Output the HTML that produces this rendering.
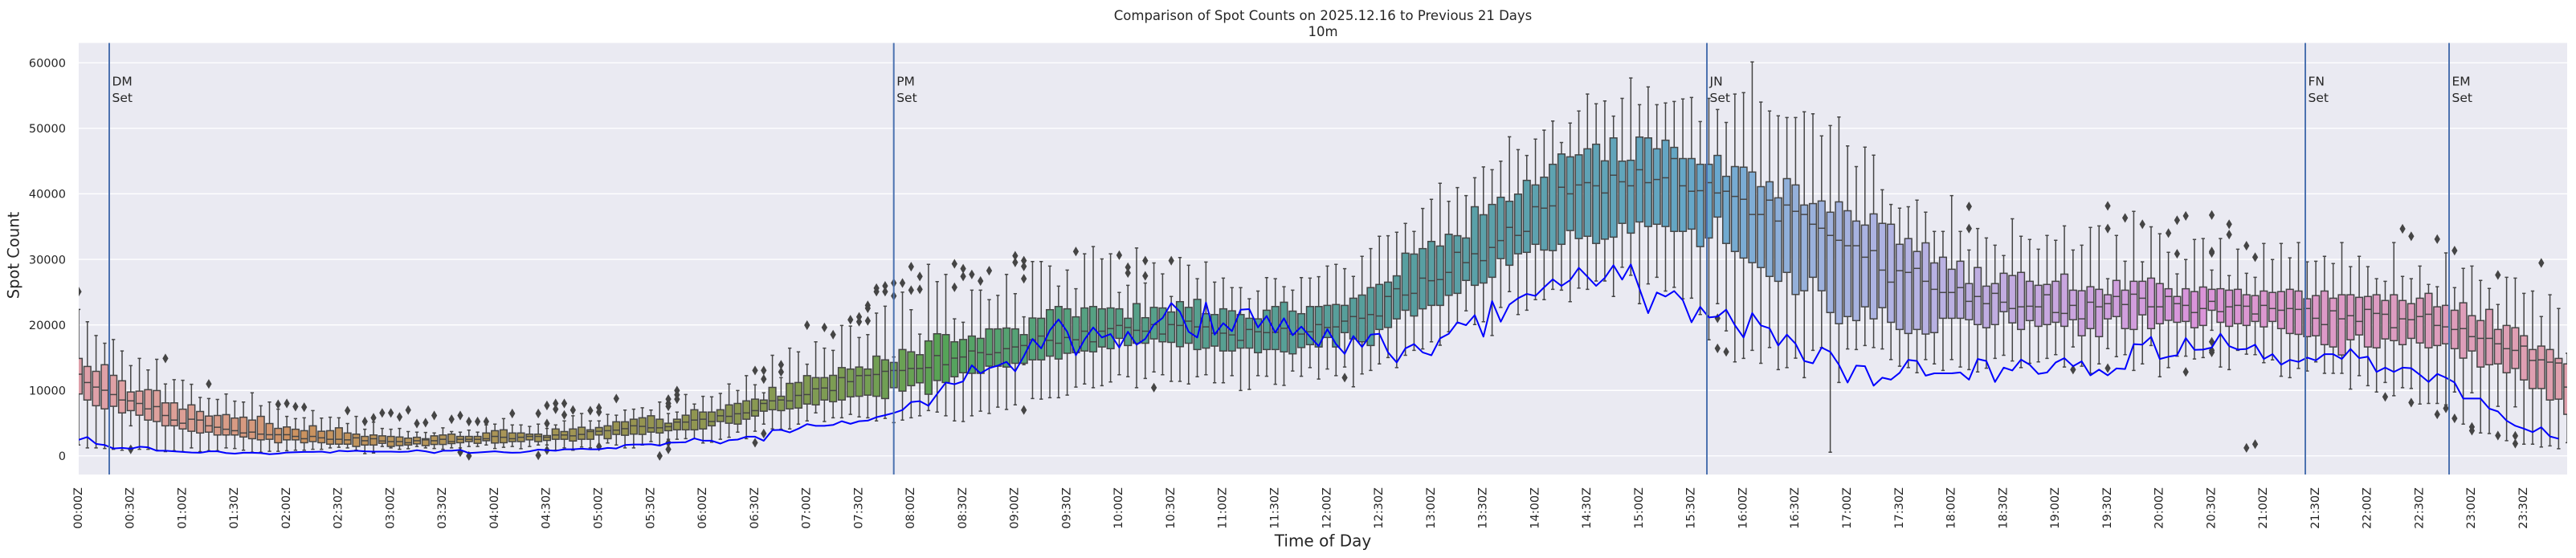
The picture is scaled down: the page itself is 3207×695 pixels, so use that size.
<!DOCTYPE html>
<html><head><meta charset="utf-8"><style>
html,body{margin:0;padding:0;background:#fff;}
svg{display:block;}
text{font-family:"DejaVu Sans","Liberation Sans",sans-serif;fill:#262626;}
</style></head><body>
<svg id="c" xmlns="http://www.w3.org/2000/svg" width="3207" height="695" viewBox="0 0 3207 695">
<defs><clipPath id="clip"><rect x="98" y="53.5" width="3098" height="537.5"/></clipPath></defs>
<rect width="3207" height="695" fill="#fff"/>
<rect x="98" y="53.5" width="3098" height="537.5" fill="#EAEAF2"/>
<g stroke="#fff" stroke-width="1.4">
<line x1="98" x2="3196" y1="567.86" y2="567.86"/>
<line x1="98" x2="3196" y1="486.25" y2="486.25"/>
<line x1="98" x2="3196" y1="404.65" y2="404.65"/>
<line x1="98" x2="3196" y1="323.04" y2="323.04"/>
<line x1="98" x2="3196" y1="241.43" y2="241.43"/>
<line x1="98" x2="3196" y1="159.82" y2="159.82"/>
<line x1="98" x2="3196" y1="78.22" y2="78.22"/>
</g>
<g id="boxes" clip-path="url(#clip)"></g>
<g id="over" clip-path="url(#clip)"></g>
<g stroke="#4C72B0" stroke-width="2">
<line x1="136" x2="136" y1="53.5" y2="591"/>
<line x1="1112.7" x2="1112.7" y1="53.5" y2="591"/>
<line x1="2125" x2="2125" y1="53.5" y2="591"/>
<line x1="2870" x2="2870" y1="53.5" y2="591"/>
<line x1="3049" x2="3049" y1="53.5" y2="591"/>
</g>
<g font-size="15.5">
<text x="139.5" y="106.5">DM</text><text x="139.5" y="127">Set</text>
<text x="1116.2" y="106.5">PM</text><text x="1116.2" y="127">Set</text>
<text x="2128.5" y="106.5">JN</text><text x="2128.5" y="127">Set</text>
<text x="2873.5" y="106.5">FN</text><text x="2873.5" y="127">Set</text>
<text x="3052.5" y="106.5">EM</text><text x="3052.5" y="127">Set</text>
</g>
<g font-size="14.5" text-anchor="end">
<text x="82" y="567.86" dy="0.36em">0</text>
<text x="82" y="486.25" dy="0.36em">10000</text>
<text x="82" y="404.65" dy="0.36em">20000</text>
<text x="82" y="323.04" dy="0.36em">30000</text>
<text x="82" y="241.43" dy="0.36em">40000</text>
<text x="82" y="159.82" dy="0.36em">50000</text>
<text x="82" y="78.22" dy="0.36em">60000</text>
</g>
<g font-size="14.5" text-anchor="end">
<text transform="translate(101.8,607) rotate(-90)">00:00Z</text>
<text transform="translate(166.57,607) rotate(-90)">00:30Z</text>
<text transform="translate(231.34,607) rotate(-90)">01:00Z</text>
<text transform="translate(296.11,607) rotate(-90)">01:30Z</text>
<text transform="translate(360.88,607) rotate(-90)">02:00Z</text>
<text transform="translate(425.65,607) rotate(-90)">02:30Z</text>
<text transform="translate(490.42,607) rotate(-90)">03:00Z</text>
<text transform="translate(555.19,607) rotate(-90)">03:30Z</text>
<text transform="translate(619.96,607) rotate(-90)">04:00Z</text>
<text transform="translate(684.73,607) rotate(-90)">04:30Z</text>
<text transform="translate(749.5,607) rotate(-90)">05:00Z</text>
<text transform="translate(814.27,607) rotate(-90)">05:30Z</text>
<text transform="translate(879.04,607) rotate(-90)">06:00Z</text>
<text transform="translate(943.81,607) rotate(-90)">06:30Z</text>
<text transform="translate(1008.58,607) rotate(-90)">07:00Z</text>
<text transform="translate(1073.35,607) rotate(-90)">07:30Z</text>
<text transform="translate(1138.12,607) rotate(-90)">08:00Z</text>
<text transform="translate(1202.89,607) rotate(-90)">08:30Z</text>
<text transform="translate(1267.66,607) rotate(-90)">09:00Z</text>
<text transform="translate(1332.43,607) rotate(-90)">09:30Z</text>
<text transform="translate(1397.2,607) rotate(-90)">10:00Z</text>
<text transform="translate(1461.97,607) rotate(-90)">10:30Z</text>
<text transform="translate(1526.74,607) rotate(-90)">11:00Z</text>
<text transform="translate(1591.51,607) rotate(-90)">11:30Z</text>
<text transform="translate(1656.28,607) rotate(-90)">12:00Z</text>
<text transform="translate(1721.05,607) rotate(-90)">12:30Z</text>
<text transform="translate(1785.82,607) rotate(-90)">13:00Z</text>
<text transform="translate(1850.59,607) rotate(-90)">13:30Z</text>
<text transform="translate(1915.36,607) rotate(-90)">14:00Z</text>
<text transform="translate(1980.13,607) rotate(-90)">14:30Z</text>
<text transform="translate(2044.9,607) rotate(-90)">15:00Z</text>
<text transform="translate(2109.67,607) rotate(-90)">15:30Z</text>
<text transform="translate(2174.44,607) rotate(-90)">16:00Z</text>
<text transform="translate(2239.21,607) rotate(-90)">16:30Z</text>
<text transform="translate(2303.98,607) rotate(-90)">17:00Z</text>
<text transform="translate(2368.75,607) rotate(-90)">17:30Z</text>
<text transform="translate(2433.52,607) rotate(-90)">18:00Z</text>
<text transform="translate(2498.29,607) rotate(-90)">18:30Z</text>
<text transform="translate(2563.06,607) rotate(-90)">19:00Z</text>
<text transform="translate(2627.83,607) rotate(-90)">19:30Z</text>
<text transform="translate(2692.6,607) rotate(-90)">20:00Z</text>
<text transform="translate(2757.37,607) rotate(-90)">20:30Z</text>
<text transform="translate(2822.14,607) rotate(-90)">21:00Z</text>
<text transform="translate(2886.91,607) rotate(-90)">21:30Z</text>
<text transform="translate(2951.68,607) rotate(-90)">22:00Z</text>
<text transform="translate(3016.45,607) rotate(-90)">22:30Z</text>
<text transform="translate(3081.22,607) rotate(-90)">23:00Z</text>
<text transform="translate(3145.99,607) rotate(-90)">23:30Z</text>
</g>
<text transform="translate(23.5,318) rotate(-90)" text-anchor="middle" font-size="19.5">Spot Count</text>
<text x="1647" y="680.5" text-anchor="middle" font-size="20">Time of Day</text>
<text x="1647" y="25" text-anchor="middle" font-size="16.5">Comparison of Spot Counts on 2025.12.16 to Previous 21 Days</text>
<text x="1647" y="45" text-anchor="middle" font-size="16.5">10m</text>
</svg>
<script>
(function(){
const B=[
[967,1138,1193,1262,1440],[1010,1166,1222,1283,1450],[1058,1183,1238,1303,1450],[1085,1160,1249,1314,1452],[1072,1197,1264,1305,1455],
[1112,1216,1283,1328,1458],[1163,1255,1286,1320,1373],[1138,1252,1295,1336,1455],[1178,1247,1314,1353,1455],[1141,1250,1306,1358,1458],
[1227,1293,1337,1373,1463],[1212,1293,1353,1373,1460],[1214,1315,1364,1384,1463],[1228,1300,1350,1392,1450],[1274,1323,1353,1398,1463],
[1278,1339,1373,1395,1460],[1281,1337,1378,1405,1460],[1262,1334,1385,1405,1450],[1287,1346,1390,1405,1452],[1290,1343,1398,1412,1458],
[1258,1353,1395,1418,1465],[1303,1340,1402,1422,1465],[1290,1365,1404,1420,1462],[1315,1382,1404,1432,1462],[1340,1377,1404,1422,1460],
[1348,1385,1410,1422,1458],[1345,1390,1418,1432,1458],[1320,1373,1410,1428,1455],[1346,1392,1415,1432,1455],[1343,1390,1420,1437,1450],
[1345,1380,1420,1437,1448],[1365,1398,1422,1437,1450],[1340,1402,1415,1445,1458],[1385,1410,1425,1440,1470],[1360,1405,1418,1440,1468],
[1382,1408,1426,1434,1445],[1385,1410,1428,1445,1450],[1382,1412,1428,1442,1455],[1393,1416,1432,1440,1453],[1395,1413,1425,1436,1445],
[1396,1418,1422,1442,1450],[1398,1408,1425,1438,1452],[1380,1405,1420,1438,1455],[1393,1402,1428,1435,1450],[1395,1410,1420,1432,1450],
[1388,1410,1420,1428,1445],[1395,1410,1420,1434,1445],[1370,1398,1418,1425,1440],[1367,1390,1410,1433,1452],[1348,1387,1413,1432,1448],
[1370,1398,1418,1428,1445],[1370,1398,1413,1428,1453],[1375,1402,1410,1422,1445],[1367,1402,1410,1428,1440],[1382,1407,1413,1424,1440],
[1370,1384,1405,1420,1458],[1356,1393,1405,1420,1450],[1338,1384,1408,1426,1458],[1330,1378,1403,1420,1447],[1356,1387,1393,1420,1450],
[1356,1379,1392,1405,1440],[1333,1373,1390,1418,1433],[1336,1359,1388,1403,1440],[1318,1359,1383,1406,1450],[1315,1350,1373,1402,1450],
[1310,1345,1375,1403,1440],[1318,1338,1380,1395,1428],[1290,1350,1380,1398,1440],[1330,1364,1376,1390,1420],[1325,1350,1360,1387,1420],
[1264,1336,1360,1387,1418],[1297,1317,1353,1387,1418],[1270,1325,1350,1384,1433],[1272,1325,1358,1373,1430],[1260,1317,1338,1358,1420],
[1227,1300,1340,1364,1413],[1250,1295,1331,1367,1395],[1198,1286,1328,1350,1418],[1230,1280,1320,1339,1392],[1258,1283,1295,1322,1367],
[1127,1239,1286,1317,1384],[1205,1270,1283,1320,1385],[1102,1225,1286,1314,1384],[1115,1222,1267,1311,1367],[1158,1198,1264,1297,1356],
[1080,1205,1244,1300,1328],[1102,1205,1241,1283,1358],[1110,1197,1250,1289,1345],[1023,1170,1205,1283,1345],[1025,1175,1219,1272,1333],
[1065,1168,1198,1270,1342],[1055,1175,1197,1266,1345],[980,1130,1194,1270,1356],[956,1143,1183,1278,1347],[1133,1152,1180,1240,1362],
[907,1107,1180,1252,1353],[968,1115,1173,1233,1345],[1053,1125,1173,1223,1338],[810,1077,1170,1263,1320],[870,1052,1128,1215,1325],
[845,1055,1160,1222,1338],[1000,1080,1137,1202,1356],[1012,1072,1133,1188,1358],[900,1060,1112,1190,1338],[900,1068,1118,1190,1322],
[933,1035,1124,1165,1330],[918,1035,1118,1165,1308],[845,1032,1104,1168,1316],[912,1035,1098,1155,1300],[993,1055,1093,1155,1160],
[800,997,1073,1143,1278],[800,998,1060,1143,1280],[816,968,1075,1130,1275],[886,957,1085,1140,1275],[830,965,1065,1120,1266],
[895,993,1073,1118,1238],[773,962,1043,1112,1227],[748,957,1080,1115,1240],[791,965,1043,1098,1233],[773,962,1034,1104,1220],
[908,965,1023,1068,1195],[883,998,1030,1093,1202],[753,947,1040,1085,1240],[875,996,1043,1085,1208],[805,960,1020,1070,1185],
[843,962,1053,1080,1195],[922,976,1020,1082,1218],[786,940,1023,1097,1218],[813,960,1008,1085,1227],[860,932,1028,1107,1202],
[802,982,1028,1102,1195],[872,985,1050,1095,1223],[858,965,1050,1112,1223],[891,972,1056,1112,1198],[891,985,1075,1102,1250],
[930,998,1037,1102,1246],[903,1000,1045,1118,1198],[856,970,1048,1107,1200],[860,957,1047,1107,1228],[888,942,1033,1115,1232],
[900,973,1053,1122,1182],[856,982,1053,1100,1200],[858,957,1045,1090,1170],[853,957,1020,1098,1210],[816,953,1030,1065,1175],
[810,950,1028,1098,1198],[825,953,1008,1048,1168],[852,928,992,1070,1237],[782,917,998,1080,1192],[755,891,985,1093,1180],
[712,880,990,1037,1157],[710,872,922,1030,1135],[698,850,895,1000,1170],[667,771,917,970,1127],[695,774,911,990,1110],
[615,755,858,965,1105],[583,730,867,953,1080],[527,746,863,953,1092],[590,705,838,918,1045],[542,710,768,911,1015],
[570,718,804,866,972],[508,609,773,883,1020],[470,637,797,875,1010],[480,601,751,855,1058],[450,576,727,790,960],
[365,590,681,813,905],[410,565,709,773,985],[430,517,695,768,970],[373,533,609,740,933],[342,506,614,760,933],
[310,461,606,762,897],[385,425,541,740,900],[317,435,564,692,940],[275,428,533,720,893],[216,407,525,712,897],
[250,391,536,737,868],[240,449,561,722,868],[293,369,499,715,922],[231,450,522,667,820],[160,447,536,701,848],
[253,366,480,662,947],[191,369,525,678,878],[253,407,514,670,855],[247,377,508,678,903],[242,402,441,695,890],
[233,441,536,695,930],[228,441,555,687,928],[312,461,553,748,985],[231,461,525,718,1073],[270,430,561,645,947],
[315,503,555,737,1042],[216,469,573,765,1150],[211,471,583,788,1138],[104,488,636,804,1110],[244,539,636,821,1155],
[275,522,586,852,1100],[292,578,659,869,1177],[298,511,603,838,1170],[298,533,625,915,1137],[278,603,636,902,1205],
[285,598,670,855,1110],[362,589,684,902,1100],[326,628,709,978,1465],[296,592,726,1017,1222],[397,623,745,992,1105],
[469,659,745,1006,1107],[401,673,785,958,1093],[429,634,762,1000,1100],[550,667,830,961,1105],[601,670,872,1012,1142],
[614,740,832,1037,1165],[609,720,838,1051,1170],[586,765,824,1037,1188],[628,735,869,1053,1142],[695,805,897,1048,1157],
[695,785,908,998,1180],[570,827,908,998,1142],[695,799,891,998,1168],[760,877,939,1003,1177],[685,821,922,1020,1185],
[718,886,947,1031,1172],[743,877,911,1020,1138],[779,841,942,975,1127],[651,849,964,1014,1147],[712,838,958,1037,1170],
[723,869,956,1006,1155],[757,883,958,1026,1150],[709,880,916,1020,1138],[726,869,978,1012,1125],[676,844,981,1026,1168],
[760,900,953,1003,1098],[743,902,1000,1059,1165],[681,888,942,1034,1190],[676,897,958,1062,1157],[860,916,947,1000,1104],
[709,866,922,992,1132],[799,900,950,1034,1125],[625,869,914,1037,1180],[801,869,928,986,1157],[679,858,958,1034,1093],
[703,877,958,1017,1202],[768,895,922,1005,1170],[843,922,947,1012,1130],[793,895,953,1009,1130],[723,905,978,1031,1140],
[720,889,964,1023,1135],[830,897,939,970,1040],[720,895,975,1012,1168],[849,900,958,1026,1177],[757,897,953,1017,1110],
[841,916,956,1023,1123],[855,919,983,1009,1125],[737,903,953,1028,1153],[793,908,964,1009,1143],[737,905,970,1034,1200],
[787,897,964,1051,1205],[734,903,967,1054,1173],[801,930,964,1062,1182],[799,919,998,1059,1150],[782,903,1020,1090,1190],
[807,928,972,1098,1190],[734,916,1000,1126,1190],[818,916,989,1073,1245],[782,925,1009,1056,1198],[818,922,967,1098,1233],
[860,916,981,1101,1255],[869,936,984,1070,1222],[734,916,1031,1076,1268],[852,936,1000,1090,1240],[860,947,1003,1068,1243],
[816,928,992,1084,1297],[880,911,984,1101,1295],[888,958,1023,1093,1295],[770,953,1028,1087,1300],[891,970,1037,1104,1255],
[824,944,1034,1137,1367],[816,989,1062,1112,1258],[866,1006,1068,1168,1398],[894,967,1068,1160,1400],[950,1037,1087,1157,1305],
[855,1023,1104,1188,1425],[858,1031,1110,1173,1307],[911,1059,1095,1213,1437],[903,1107,1145,1243,1437],[992,1095,1143,1243,1447],
[916,1107,1151,1283,1443],[964,1138,1154,1280,1453],[1120,1157,1238,1333,1432]
];
const O={0:[905],6:[1455],10:[1138],15:[1227],23:[1298],24:[1295],25:[1306],26:[1308],31:[1320],33:[1358],34:[1345],35:[1328],36:[1328],37:[1342],38:[1318],39:[1365],40:[1362],41:[1337],43:[1350],44:[1337,1465],45:[1358,1478],46:[1358],47:[1358],50:[1330],53:[1330,1476],54:[1302,1365,1458],55:[1295,1315],56:[1295,1335],57:[1318],59:[1320],60:[1310,1325,1445],62:[1278],67:[1478],68:[1280,1295,1305,1432,1455],69:[1250,1265,1280],78:[1180,1432],79:[1180,1210,1400],81:[1160,1185],84:[1022],86:[1030],87:[1055],89:[1003],90:[993,1010],91:[953,963,1007],92:[893,905],93:[885,905],94:[875,920],95:[875],96:[818,900],97:[852,897],101:[808,890],102:[825,852],103:[845],104:[868],105:[832],108:[780,803],109:[797,817,860,1318],115:[765],120:[778],121:[820,840],123:[797,850],124:[1240],126:[797],146:[1205],189:[998,1103],190:[1115],218:[608,685],230:[1177],234:[606,685,1172],236:[648],238:[670],241:[701],242:[656,773],243:[641,1185],246:[638,765,770,1080,1110,1117],248:[670,706],250:[745,1450],251:[785,1437],266:[1272],268:[686],269:[712,1292],272:[722,1333],273:[1312],274:[762,1347],276:[1377,1390],279:[847,1407],281:[1408,1435],284:[805]};
const L=[1422,1412,1436,1440,1452,1450,1453,1446,1448,1460,
1460,1462,1464,1466,1467,1462,1462,1468,1470,1467,
1467,1468,1472,1470,1466,1465,1464,1464,1463,1467,
1460,1462,1460,1462,1463,1463,1463,1464,1463,1458,
1462,1468,1460,1460,1457,1468,1466,1464,1462,1465,
1467,1466,1462,1456,1458,1460,1455,1455,1453,1455,
1455,1450,1452,1440,1438,1438,1437,1442,1432,1431,
1430,1417,1425,1425,1435,1423,1421,1411,1411,1425,
1388,1387,1396,1383,1367,1373,1373,1370,1357,1366,
1357,1355,1343,1336,1328,1318,1290,1287,1303,1262,
1222,1228,1218,1162,1190,1172,1163,1150,1183,1130,
1070,1103,1040,1002,1045,1127,1072,1030,1065,1053,
1100,1045,1090,1070,1020,997,945,975,1045,1065,
943,1055,1015,1043,968,966,1030,990,1048,998,
1057,1027,1062,1095,1036,1088,1122,1060,1098,1055,
1052,1117,1152,1103,1088,1117,1127,1068,1052,1012,
1022,987,1062,938,1010,950,928,913,920,890,
862,885,865,822,853,885,857,813,863,810,
895,980,908,922,903,935,1012,958,995,992,
968,1022,1065,980,1023,1033,1093,1055,1087,1147,
1155,1100,1115,1160,1222,1163,1165,1233,1205,1212,
1188,1143,1147,1198,1190,1190,1190,1187,1212,1140,
1147,1220,1170,1180,1142,1160,1192,1187,1152,1137,
1165,1148,1197,1177,1197,1173,1175,1088,1090,1063,
1140,1132,1127,1067,1108,1107,1100,1052,1095,1107,
1105,1090,1140,1123,1160,1143,1150,1135,1145,1123,
1123,1140,1105,1137,1132,1185,1170,1185,1170,1172,
1195,1220,1192,1205,1222,1278,1278,1278,1313,1323,
1355,1373,1383,1395,1378,1410,1418];
const N=288;
const M=[[3.2406,-1.5372,-0.4986],[-0.9689,1.8758,0.0415],[0.0557,-0.2040,1.0570]];
function maxChroma(Lv,H){
  const hr=H*Math.PI/180,sH=Math.sin(hr),cH=Math.cos(hr);
  const sub1=Math.pow(Lv+16,3)/1560896;
  const sub2=sub1>0.008856?sub1:Lv/903.3;
  let res=Infinity;
  for(const r of M){
    const m1=r[0],m2=r[1],m3=r[2];
    const top=(0.99915*m1+1.05122*m2+1.14460*m3)*sub2;
    const rb=0.86330*m3-0.17266*m2;
    const lb=0.12949*m3-0.38848*m1;
    const bot=(rb*sH+lb*cH)*sub2;
    for(const t of [0,1]){
      const C=Lv*(top-1.05122*t)/(bot+0.17266*sH*t);
      if(C>0&&C<res)res=C;
    }
  }
  return res;
}
function fromLin(c){return c<=0.0031308?12.92*c:1.055*Math.pow(c,1/2.4)-0.055;}
function husl(H,S,Lv){
  const C=maxChroma(Lv,H)/100*S;
  const hr=H*Math.PI/180;
  const U=Math.cos(hr)*C,V=Math.sin(hr)*C;
  const t=(Lv+16)/116;
  const t3=t*t*t;
  const vY=t3>0.008856?t3:(116*t-16)/903.3;
  const vU=U/(13*Lv)+0.19784, vV=V/(13*Lv)+0.46834;
  const Yv=vY;
  const Xv=0-(9*Yv*vU)/((vU-4)*vV-vU*vV);
  const Zv=(9*Yv-15*vV*Yv-vV*Xv)/(3*vV);
  return M.map(r=>Math.min(1,Math.max(0,fromLin(r[0]*Xv+r[1]*Yv+r[2]*Zv))));
}
function rgb2hls(r,g,b){
  const mx=Math.max(r,g,b),mn=Math.min(r,g,b),sm=mx+mn,rg=mx-mn,l=sm/2;
  if(mx===mn)return[0,l,0];
  const s=l<=0.5?rg/sm:rg/(2-mx-mn);
  const rc=(mx-r)/rg,gc=(mx-g)/rg,bc=(mx-b)/rg;
  let h;
  if(r===mx)h=bc-gc;else if(g===mx)h=2+rc-bc;else h=4+gc-rc;
  h=((h/6)%1+1)%1;
  return[h,l,s];
}
function vv(m1,m2,h){h=((h%1)+1)%1;if(h<1/6)return m1+(m2-m1)*h*6;if(h<0.5)return m2;if(h<2/3)return m1+(m2-m1)*(2/3-h)*6;return m1;}
function hls2rgb(h,l,s){
  if(s===0)return[l,l,l];
  const m2=l<=0.5?l*(1+s):l+s-l*s, m1=2*l-m2;
  return[vv(m1,m2,h+1/3),vv(m1,m2,h),vv(m1,m2,h-1/3)];
}
function hex(c){return '#'+c.map(v=>{const n=Math.max(0,Math.min(255,Math.round(v*255)));return(n<16?'0':'')+n.toString(16);}).join('');}
const cols=[];let minL=1;
for(let j=0;j<N;j++){
  const h=(((j/N)+0.01)%1)*359;
  const rgb=husl(h,0.9*99,0.7*99);
  const hl=rgb2hls(rgb[0],rgb[1],rgb[2]);
  const d=hls2rgb(hl[0],hl[1],hl[2]*0.5625);
  const hl2=rgb2hls(d[0],d[1],d[2]);
  if(hl2[1]<minL)minL=hl2[1];
  cols.push(hex(d));
}
const lum=minL*0.6;
const g=hex([lum,lum,lum]);
const X=i=>98+i*10.795, Y=v=>40+v/2.8;
const hw=4.318,cw=2.159;
let s='';
for(let i=0;i<N;i++){
  const b=B[i],x=X(i);
  const yt=Y(b[0]),y3=Y(b[1]),ym=Y(b[2]),y1=Y(b[3]),yb=Y(b[4]);
  s+='<path d="M'+x+' '+y3+'V'+yt+'M'+(x-cw)+' '+yt+'H'+(x+cw)+'M'+x+' '+y1+'V'+yb+'M'+(x-cw)+' '+yb+'H'+(x+cw)+'" stroke="'+g+'" stroke-width="1.5" fill="none"/>';
  s+='<rect x="'+(x-hw)+'" y="'+y3+'" width="'+(2*hw)+'" height="'+(y1-y3)+'" fill="'+cols[i]+'" stroke="'+g+'" stroke-width="1.5"/>';
  s+='<path d="M'+(x-hw)+' '+ym+'H'+(x+hw)+'" stroke="'+g+'" stroke-width="1.5"/>';
  (O[i]||[]).forEach(v=>{const y=Y(v);s+='<path d="M'+x+' '+(y-4.9)+'L'+(x+2.95)+' '+y+'L'+x+' '+(y+4.9)+'L'+(x-2.95)+' '+y+'Z" fill="'+g+'" stroke="'+g+'" stroke-width="1.2"/>';});
}
document.getElementById('boxes').innerHTML=s;
const pts=L.map((v,i)=>X(i).toFixed(2)+','+Y(v).toFixed(2)).join(' ');
document.getElementById('over').innerHTML='<polyline points="'+pts+'" fill="none" stroke="#0000ff" stroke-width="2" stroke-linejoin="round"/>';
})();
</script>
</body></html>
